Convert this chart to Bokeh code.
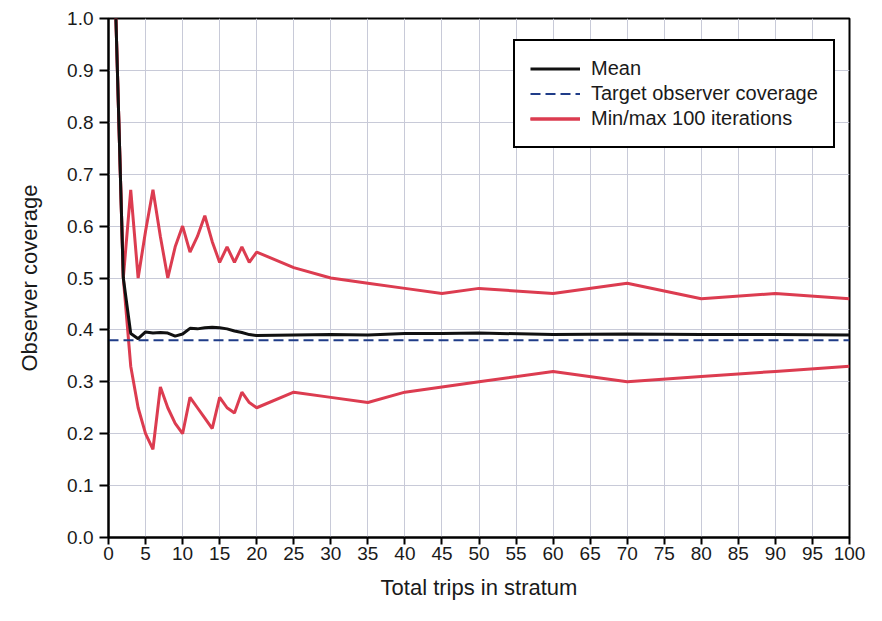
from bokeh.plotting import figure
from bokeh.models import FixedTicker, Legend, LegendItem, NumeralTickFormatter, Range1d
from bokeh.embed import file_html
from bokeh.resources import INLINE

trips = [1, 2, 3, 4, 5, 6, 7, 8, 9, 10, 11, 12, 13, 14, 15, 16, 17, 18, 19, 20,
         25, 30, 35, 40, 45, 50, 60, 70, 80, 90, 100]
mean_cov = [1.0, 0.5, 0.393, 0.383, 0.396, 0.394, 0.395, 0.394, 0.388, 0.392,
            0.403, 0.402, 0.404, 0.405, 0.404, 0.402, 0.398, 0.395, 0.391, 0.389,
            0.39, 0.391, 0.39, 0.393, 0.393, 0.394, 0.391, 0.392, 0.391, 0.391, 0.39]
max_cov = [1.0, 0.5, 0.67, 0.5, 0.59, 0.67, 0.58, 0.5, 0.56, 0.6,
           0.55, 0.58, 0.62, 0.57, 0.53, 0.56, 0.53, 0.56, 0.53, 0.55,
           0.52, 0.50, 0.49, 0.48, 0.47, 0.48, 0.47, 0.49, 0.46, 0.47, 0.46]
min_cov = [1.0, 0.5, 0.33, 0.25, 0.2, 0.17, 0.29, 0.25, 0.22, 0.2,
           0.27, 0.25, 0.23, 0.21, 0.27, 0.25, 0.24, 0.28, 0.26, 0.25,
           0.28, 0.27, 0.26, 0.28, 0.29, 0.30, 0.32, 0.30, 0.31, 0.32, 0.33]
target_x = [0, 100]
target_y = [0.38, 0.38]
x_ticks = list(range(0, 101, 5))
y_ticks = [0.0, 0.1, 0.2, 0.3, 0.4, 0.5, 0.6, 0.7, 0.8, 0.9, 1.0]

FONT = "Liberation Sans"
TXT = "#1a1a1a"

p = figure(width=866, height=605, output_backend="svg", toolbar_location=None,
           x_range=Range1d(0, 100), y_range=Range1d(0, 1.0),
           min_border_left=108, min_border_right=17, min_border_top=18, min_border_bottom=68)

p.outline_line_color = "black"
p.outline_line_width = 2

for ax in (p.xaxis[0], p.yaxis[0]):
    ax.axis_line_color = "black"
    ax.axis_line_width = 2
    ax.major_tick_line_color = "black"
    ax.major_tick_line_width = 2
    ax.major_tick_in = 0
    ax.minor_tick_line_color = None
    ax.major_label_text_font = FONT
    ax.major_label_text_color = TXT
    ax.axis_label_text_font = FONT
    ax.axis_label_text_font_style = "normal"
    ax.axis_label_text_color = TXT

p.xaxis.ticker = FixedTicker(ticks=x_ticks)
p.yaxis.ticker = FixedTicker(ticks=y_ticks)
p.yaxis.formatter = NumeralTickFormatter(format="0.0")
p.xaxis.major_tick_out = 7
p.yaxis.major_tick_out = 9
p.xaxis.major_label_text_font_size = "19px"
p.yaxis.major_label_text_font_size = "19px"
p.xaxis.major_label_standoff = 2
p.yaxis.major_label_standoff = 6
p.xaxis.axis_label = "Total trips in stratum"
p.yaxis.axis_label = "Observer coverage"
p.xaxis.axis_label_text_font_size = "22px"
p.yaxis.axis_label_text_font_size = "22px"
p.xaxis.axis_label_standoff = 12
p.yaxis.axis_label_standoff = 22

p.xgrid.ticker = FixedTicker(ticks=x_ticks)
p.ygrid.ticker = FixedTicker(ticks=y_ticks)
p.grid.grid_line_color = "#c8cad8"
p.grid.grid_line_width = 1

r_max = p.line(trips, max_cov, line_color="#dc3c50", line_width=3)
r_min = p.line(trips, min_cov, line_color="#dc3c50", line_width=3)
r_target = p.line(target_x, target_y, line_color="#1f3c88", line_width=2, line_dash="10 5")
r_mean = p.line(trips, mean_cov, line_color="#111111", line_width=3)

legend = Legend(items=[
    LegendItem(label="Mean", renderers=[r_mean]),
    LegendItem(label="Target observer coverage", renderers=[r_target]),
    LegendItem(label="Min/max 100 iterations", renderers=[r_max, r_min]),
], location=(405, 389))
legend.label_text_font = FONT
legend.label_text_font_size = "20px"
legend.label_text_color = TXT
legend.glyph_width = 50
legend.glyph_height = 25
legend.label_height = 25
legend.label_standoff = 11
legend.spacing = 0
legend.padding = 15
legend.margin = 0
legend.border_line_color = "black"
legend.border_line_alpha = 1.0
legend.border_line_width = 2
legend.background_fill_color = "white"
legend.background_fill_alpha = 1.0
p.add_layout(legend, "center")

open("out.html", "w").write(file_html(p, INLINE))
